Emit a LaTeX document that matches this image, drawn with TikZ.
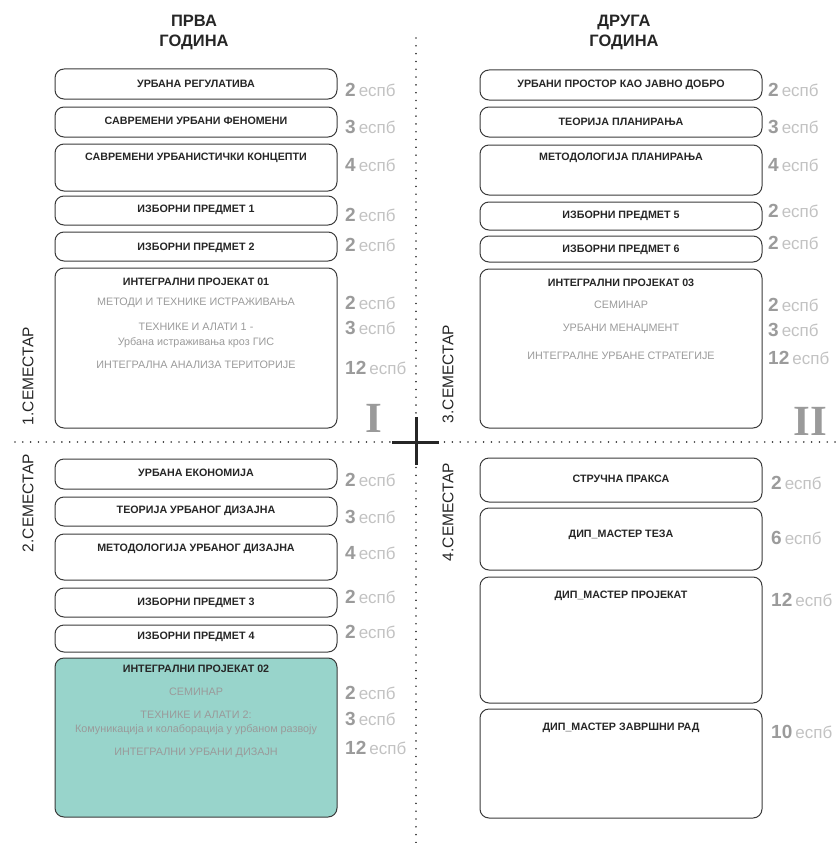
\documentclass[tikz,border=0pt]{standalone}
\usepackage{fontspec}
\setmainfont{Liberation Sans}
\newfontfamily\numeralfont{Liberation Serif}
\usepackage{tikz}
\usetikzlibrary{positioning}
\definecolor{mdark}{HTML}{262626}
\definecolor{mline}{HTML}{3A3A3A}
\definecolor{msub}{HTML}{9A9A9A}
\definecolor{mnum}{HTML}{9B9B9B}
\definecolor{mects}{HTML}{C2C2C2}
\definecolor{mteal}{HTML}{98D4CB}
\definecolor{mroman}{HTML}{9A9A9A}
\newcommand{\espb}[1]{{\bfseries\fontsize{19}{19}\selectfont\color{mnum}#1}\hspace{3pt}{\fontsize{17}{17}\selectfont\color{mects}еспб}}
\tikzset{
  course/.style={draw=mline, line width=1pt, rounded corners=9pt,
                 minimum width=282pt, inner sep=0pt},
  ctitle/.style={font=\fontsize{10.7}{12}\selectfont\bfseries, text=mdark},
  csub/.style={font=\fontsize{10.8}{14.5}\selectfont, text=msub, align=center},
  ectsl/.style={anchor=west, inner sep=0pt},
  yeartitle/.style={font=\fontsize{16.5}{20}\selectfont\bfseries, text=mdark, align=center},
  semlabel/.style={rotate=90, font=\fontsize{15.5}{16}\selectfont, text=mdark},
  romannum/.style={font=\numeralfont\bfseries\fontsize{43}{43}\selectfont, text=mroman},
  dotline/.style={mline, line width=1.7pt, dash pattern=on 0.01pt off 7.8pt, line cap=round},
}
\begin{document}
\begin{tikzpicture}[x=1pt, y=-1pt, line join=round]
  \useasboundingbox (0,0) rectangle (838,843);

  %% ── Grid ──
  \draw[dotline] (416,38) -- (416,843);
  \draw[dotline] (15,442) -- (838,442);
  \coordinate (mid) at (416,442);
  \draw[line width=3pt, mdark] ([xshift=-24pt]mid) -- ([xshift=23pt]mid);
  \draw[line width=3pt, mdark] ([yshift=25pt]mid) -- ([yshift=-23pt]mid);
  \node[romannum] (rI) at (374,418) {I};
  \node[romannum] (rII) at (810,421) {II};

  %% ── Year titles ──
  \node[yeartitle] (y1) at (194,32) {ПРВА\\ГОДИНА};
  \node[yeartitle] (y2) at (624,32) {ДРУГА\\ГОДИНА};

  %% ── Semester labels ──
  \node[semlabel] (s1) at (28,376) {1.СЕМЕСТАР};
  \node[semlabel] (s2) at (28,503) {2.СЕМЕСТАР};
  \node[semlabel] (s3) at (448,374) {3.СЕМЕСТАР};
  \node[semlabel] (s4) at (448,512) {4.СЕМЕСТАР};

  %% ── 1. semester ──
  \node[course, minimum height=30pt] (a1) at (196,84) {};
  \node[ctitle] (a1t) at (196,84) {УРБАНА РЕГУЛАТИВА};
  \node[ectsl] (a1e) at (345,90) {\espb{2}};

  \node[course, minimum height=30pt] (a2) at (196,122) {};
  \node[ctitle] (a2t) at (196,121) {САВРЕМЕНИ УРБАНИ ФЕНОМЕНИ};
  \node[ectsl] (a2e) at (345,127) {\espb{3}};

  \node[course, minimum height=47pt] (a3) at (196,167.5) {};
  \node[ctitle] (a3t) at (196,158) {САВРЕМЕНИ УРБАНИСТИЧКИ КОНЦЕПТИ};
  \node[ectsl] (a3e) at (345,165) {\espb{4}};

  \node[course, minimum height=29pt] (a4) at (196,210.5) {};
  \node[ctitle] (a4t) at (196,210) {ИЗБОРНИ ПРЕДМЕТ 1};
  \node[ectsl] (a4e) at (345,215) {\espb{2}};

  \node[course, minimum height=29pt] (a5) at (196,246.5) {};
  \node[ctitle] (a5t) at (196,248) {ИЗБОРНИ ПРЕДМЕТ 2};
  \node[ectsl] (a5e) at (345,245) {\espb{2}};

  \node[course, minimum height=160pt] (a6) at (196,348) {};
  \node[ctitle] (a6t) at (196,282) {ИНТЕГРАЛНИ ПРОЈЕКАТ 01};
  \node[csub] (a6a) at (196,303) {МЕТОДИ И ТЕХНИКЕ ИСТРАЖИВАЊА};
  \node[csub] (a6b) at (196,335.5) {ТЕХНИКЕ И АЛАТИ 1 -\\Урбана истраживања кроз ГИС};
  \node[csub] (a6c) at (196,365) {ИНТЕГРАЛНА АНАЛИЗА ТЕРИТОРИЈЕ};
  \node[ectsl] (a6ae) at (345,303) {\espb{2}};
  \node[ectsl] (a6be) at (345,328) {\espb{3}};
  \node[ectsl] (a6ce) at (345,368) {\espb{12}};

  %% ── 2. semester ──
  \node[course, minimum height=30pt] (b1) at (196,474) {};
  \node[ctitle] (b1t) at (196,473) {УРБАНА ЕКОНОМИЈА};
  \node[ectsl] (b1e) at (345,480) {\espb{2}};

  \node[course, minimum height=29pt] (b2) at (196,511.5) {};
  \node[ctitle] (b2t) at (196,511) {ТЕОРИЈА УРБАНОГ ДИЗАЈНА};
  \node[ectsl] (b2e) at (345,517) {\espb{3}};

  \node[course, minimum height=46pt] (b3) at (196,557) {};
  \node[ctitle] (b3t) at (196,549) {МЕТОДОЛОГИЈА УРБАНОГ ДИЗАЈНА};
  \node[ectsl] (b3e) at (345,553) {\espb{4}};

  \node[course, minimum height=29pt] (b4) at (196,602.5) {};
  \node[ctitle] (b4t) at (196,603) {ИЗБОРНИ ПРЕДМЕТ 3};
  \node[ectsl] (b4e) at (345,597) {\espb{2}};

  \node[course, minimum height=27pt] (b5) at (196,638.5) {};
  \node[ctitle] (b5t) at (196,637) {ИЗБОРНИ ПРЕДМЕТ 4};
  \node[ectsl] (b5e) at (345,632) {\espb{2}};

  \node[course, fill=mteal, minimum height=159pt] (b6) at (196,737.5) {};
  \node[ctitle] (b6t) at (196,669) {ИНТЕГРАЛНИ ПРОЈЕКАТ 02};
  \node[csub] (b6a) at (196,692) {СЕМИНАР};
  \node[csub] (b6b) at (196,723) {ТЕХНИКЕ И АЛАТИ 2:\\Комуникација и колаборација у урбаном развоју};
  \node[csub] (b6c) at (196,753) {ИНТЕГРАЛНИ УРБАНИ ДИЗАЈН};
  \node[ectsl] (b6ae) at (345,693) {\espb{2}};
  \node[ectsl] (b6be) at (345,719) {\espb{3}};
  \node[ectsl] (b6ce) at (345,748) {\espb{12}};

  %% ── 3. semester ──
  \node[course, minimum height=30pt] (c1) at (621,85) {};
  \node[ctitle] (c1t) at (621,85) {УРБАНИ ПРОСТОР КАО ЈАВНО ДОБРО};
  \node[ectsl] (c1e) at (768,90) {\espb{2}};

  \node[course, minimum height=30pt] (c2) at (621,122) {};
  \node[ctitle] (c2t) at (621,122) {ТЕОРИЈА ПЛАНИРАЊА};
  \node[ectsl] (c2e) at (768,127) {\espb{3}};

  \node[course, minimum height=50pt] (c3) at (621,170) {};
  \node[ctitle] (c3t) at (621,158) {МЕТОДОЛОГИЈА ПЛАНИРАЊА};
  \node[ectsl] (c3e) at (768,165) {\espb{4}};

  \node[course, minimum height=28pt] (c4) at (621,216) {};
  \node[ctitle] (c4t) at (621,216) {ИЗБОРНИ ПРЕДМЕТ 5};
  \node[ectsl] (c4e) at (768,211) {\espb{2}};

  \node[course, minimum height=26pt] (c5) at (621,249) {};
  \node[ctitle] (c5t) at (621,250) {ИЗБОРНИ ПРЕДМЕТ 6};
  \node[ectsl] (c5e) at (768,243) {\espb{2}};

  \node[course, minimum height=159pt] (c6) at (621,348.5) {};
  \node[ctitle] (c6t) at (621,283) {ИНТЕГРАЛНИ ПРОЈЕКАТ 03};
  \node[csub] (c6a) at (621,305) {СЕМИНАР};
  \node[csub] (c6b) at (621,329) {УРБАНИ МЕНАЏМЕНТ};
  \node[csub] (c6c) at (621,356) {ИНТЕГРАЛНЕ УРБАНЕ СТРАТЕГИЈЕ};
  \node[ectsl] (c6ae) at (768,305) {\espb{2}};
  \node[ectsl] (c6be) at (768,330) {\espb{3}};
  \node[ectsl] (c6ce) at (768,358) {\espb{12}};

  %% ── 4. semester ──
  \node[course, minimum height=44pt] (d1) at (621,480) {};
  \node[ctitle] (d1t) at (621,479) {СТРУЧНА ПРАКСА};
  \node[ectsl] (d1e) at (771,483) {\espb{2}};

  \node[course, minimum height=62pt] (d2) at (621,539) {};
  \node[ctitle] (d2t) at (621,535) {ДИП\_МАСТЕР ТЕЗА};
  \node[ectsl] (d2e) at (771,538) {\espb{6}};

  \node[course, minimum height=126pt] (d3) at (621,640) {};
  \node[ctitle] (d3t) at (621,596) {ДИП\_МАСТЕР ПРОЈЕКАТ};
  \node[ectsl] (d3e) at (771,600) {\espb{12}};

  \node[course, minimum height=109pt] (d4) at (621,763.5) {};
  \node[ctitle] (d4t) at (621,728) {ДИП\_МАСТЕР ЗАВРШНИ РАД};
  \node[ectsl] (d4e) at (771,732) {\espb{10}};
\end{tikzpicture}
\end{document}
